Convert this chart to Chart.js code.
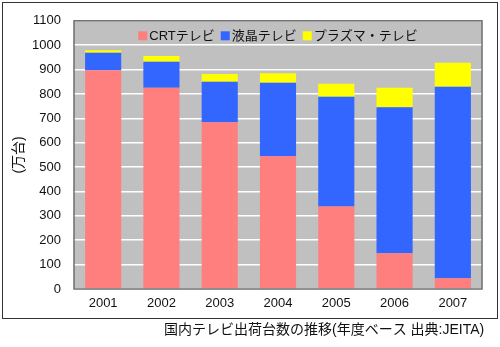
<!DOCTYPE html>
<html>
<head>
<meta charset="utf-8">
<script src="https://cdn.jsdelivr.net/npm/chart.js@4/dist/chart.umd.min.js"></script>
<style>
html,body{margin:0;padding:0;background:#fff;}
#wrap{width:500px;height:347px;position:relative;}
</style>
</head>
<body>
<div id="wrap"><canvas id="c" width="500" height="347"></canvas></div>
<script>
const categories = ['2001','2002','2003','2004','2005','2006','2007'];
const crtValues    = [897, 825, 684, 544, 338, 147, 44];
const lcdValues    = [72, 107, 166, 302, 450, 598, 786];
const plasmaValues = [10, 24, 32, 39, 54, 80, 98];
const seriesLabels = ['CRTテレビ', '液晶テレビ', 'プラズマ・テレビ'];
const yTickMax = 1100;
const yTickStep = 100;
const yTitle = '(万台)';
const caption = '国内テレビ出荷台数の推移(年度ベース 出典:JEITA)';

const FONT = "'Liberation Sans', 'Noto Sans CJK JP', sans-serif";
const colors = ['#FF7F7F', '#3366FF', '#FFFF00'];

const decor = {
  id: 'decor',
  beforeDraw(chart) {
    const ctx = chart.ctx, a = chart.chartArea;
    ctx.save();
    ctx.fillStyle = '#fff';
    ctx.fillRect(0, 0, chart.width, chart.height);
    ctx.strokeStyle = '#333';
    ctx.lineWidth = 1;
    ctx.strokeRect(2.5, 2.5, 495, 316);
    ctx.fillStyle = '#C0C0C0';
    ctx.fillRect(a.left, a.top, a.right - a.left, a.bottom - a.top);
    ctx.restore();
  },
  afterDatasetsDraw(chart) {
    const ctx = chart.ctx, a = chart.chartArea;
    ctx.save();
    ctx.strokeStyle = '#6e6e6e';
    ctx.lineWidth = 1.5;
    ctx.strokeRect(a.left, a.top, a.right - a.left, a.bottom - a.top);
    // legend inside plot
    ctx.font = '13px ' + FONT;
    ctx.textBaseline = 'middle';
    const box = 9, gap = 2, spacing = 6;
    const widths = seriesLabels.map(l => box + gap + ctx.measureText(l).width);
    const total = widths.reduce((s, w) => s + w, 0) + spacing * (widths.length - 1);
    let x = (a.left + a.right) / 2 - total / 2;
    const y = a.top + 15;
    seriesLabels.forEach((l, i) => {
      ctx.fillStyle = colors[i];
      ctx.fillRect(x, y - box / 2, box, box);
      ctx.fillStyle = '#111';
      ctx.fillText(l, x + box + gap, y + 1);
      x += widths[i] + spacing;
    });
    // y title
    ctx.save();
    ctx.translate(19, (a.top + a.bottom) / 2);
    ctx.rotate(-Math.PI / 2);
    ctx.textAlign = 'center';
    ctx.fillStyle = '#111';
    ctx.font = '14px ' + FONT;
    ctx.fillText(yTitle, 0, 0);
    ctx.restore();
    // caption
    ctx.textAlign = 'left';
    ctx.fillStyle = '#111';
    ctx.font = '14px ' + FONT;
    ctx.fillText(caption, 164, 330);
    ctx.restore();
  }
};

new Chart(document.getElementById('c'), {
  type: 'bar',
  data: {
    labels: categories,
    datasets: [
      { label: seriesLabels[0], data: crtValues, backgroundColor: colors[0] },
      { label: seriesLabels[1], data: lcdValues, backgroundColor: colors[1] },
      { label: seriesLabels[2], data: plasmaValues, backgroundColor: colors[2] }
    ]
  },
  options: {
    responsive: false,
    animation: false,
    devicePixelRatio: 1,
    layout: { padding: { left: 0, top: 20, right: 18, bottom: 0 } },
    datasets: { bar: { categoryPercentage: 1, barPercentage: 0.62, borderWidth: 0 } },
    plugins: { legend: { display: false }, tooltip: { enabled: false } },
    scales: {
      x: {
        stacked: true,
        grid: { display: false, drawTicks: false },
        border: { display: false },
        ticks: { color: '#111', font: { family: FONT, size: 13 }, padding: 7 },
        afterFit(s) { s.height = 58; }
      },
      y: {
        stacked: true,
        min: 0, max: yTickMax,
        grid: { color: '#ffffff', lineWidth: 1.5, drawTicks: false },
        border: { display: false },
        ticks: { stepSize: yTickStep, color: '#111', font: { family: FONT, size: 13 }, padding: 13,
                 callback: v => String(v) },
        afterFit(s) { s.width = 74; }
      }
    }
  },
  plugins: [decor]
});
</script>
</body>
</html>
